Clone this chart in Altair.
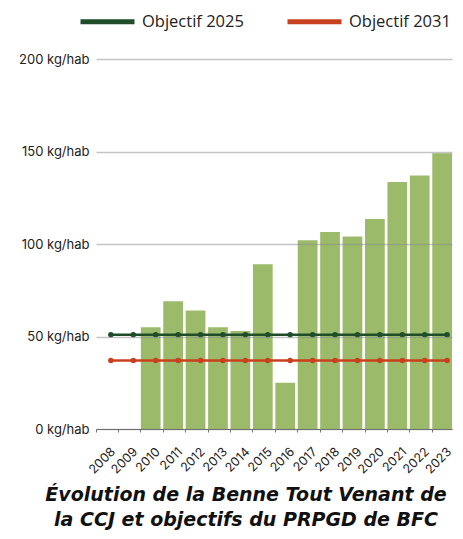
import altair as alt
import pandas as pd

years = ["2008", "2009", "2010", "2011", "2012", "2013", "2014", "2015",
         "2016", "2017", "2018", "2019", "2020", "2021", "2022", "2023"]
benne = [None, None, 55, 69, 64, 55, 53, 89, 25, 102, 106.5, 104, 113.5, 133.5, 137, 149]
obj2025 = [51, 51, 51, 51, 51, 51, 51, 51, 51, 51, 51, 51, 51, 51, 51, 51]
obj2031 = [37, 37, 37, 37, 37, 37, 37, 37, 37, 37, 37, 37, 37, 37, 37, 37]
series = ["Objectif 2025", "Objectif 2031"]
y_ticks = [0, 50, 100, 150, 200]
title_lines = ["Évolution de la Benne Tout Venant de", "la CCJ et objectifs du PRPGD de BFC"]

bars_df = pd.DataFrame({"year": years, "value": benne})
lines_df = pd.DataFrame({
    "year": years + years,
    "value": obj2025 + obj2031,
    "serie": [series[0]] * len(years) + [series[1]] * len(years),
})

x_enc = alt.X(
    "year:N",
    sort=years,
    scale=alt.Scale(domain=years, paddingInner=0.12, paddingOuter=0),
    axis=alt.Axis(
        title=None,
        labelAngle=-45,
        labelAlign="right",
        labelBaseline="top",
        labelOffset=3,
        labelPadding=13,
        labelFont="Inter",
        labelFontSize=12.5,
        labelColor="#222222",
        domainColor="#555555",
        domainWidth=1.2,
        tickColor="#777777",
        tickSize=3,
        bandPosition=0,
        grid=False,
    ),
)

y_enc = alt.Y(
    "value:Q",
    scale=alt.Scale(domain=[0, 200], nice=False),
    axis=alt.Axis(
        title=None,
        values=y_ticks,
        labelExpr="datum.value + ' kg/hab'",
        labelFont="Inter",
        labelFontSize=13,
        labelColor="#222222",
        labelPadding=7,
        ticks=False,
        domain=False,
        grid=True,
        gridColor="#8a8a8a",
        gridOpacity=0.5,
        gridWidth=1.5,
        zindex=1,
    ),
)

bars = alt.Chart(bars_df).mark_bar(color="#9bbb6a").encode(x=x_enc, y=y_enc)

lines = alt.Chart(lines_df).mark_line(
    strokeWidth=2.5,
    xOffset=5,
    point=alt.OverlayMarkDef(filled=True, size=30, xOffset=5),
).encode(
    x=alt.X("year:N", sort=years),
    y=alt.Y("value:Q"),
    color=alt.Color(
        "serie:N",
        scale=alt.Scale(domain=series, range=["#1f4d2a", "#c9401f"]),
        legend=alt.Legend(
            title=None,
            orient="none",
            legendX=-18,
            legendY=-67,
            direction="horizontal",
            symbolType="stroke",
            symbolSize=2916,
            symbolStrokeWidth=5,
            labelFont="Open Sans",
            labelFontSize=16.5,
            labelColor="#222222",
            labelOffset=5,
            columnPadding=33,
        ),
    ),
)

chart = alt.layer(bars, lines).properties(
    width=356,
    height=370,
    autosize=alt.AutoSizeParams(type="none"),
    padding={"left": 88, "top": 51, "right": 3, "bottom": 102},
    title=alt.TitleParams(
        text=title_lines,
        orient="bottom",
        anchor="middle",
        font="DejaVu Sans",
        fontSize=19,
        fontWeight="bold",
        fontStyle="italic",
        lineHeight=25,
        color="#111111",
        dx=-28,
        offset=10,
    ),
).configure_view(stroke=None)

chart.save("out.html", embed_options={"renderer": "svg", "actions": False})
